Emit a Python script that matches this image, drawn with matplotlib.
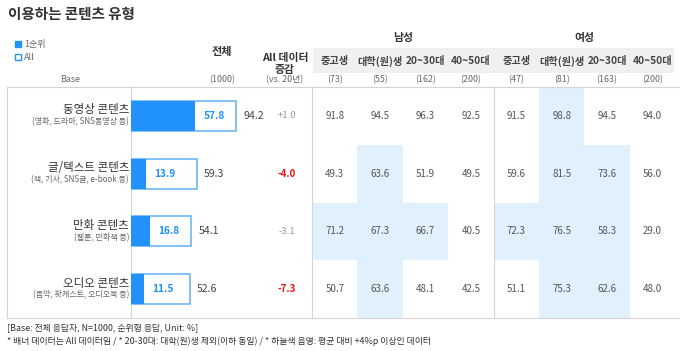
import matplotlib
matplotlib.use("Agg")
import matplotlib.pyplot as plt
from matplotlib.patches import Rectangle

plt.rcParams['font.family'] = ['Noto Sans CJK KR', 'DejaVu Sans']

# data
categories = ["동영상 콘텐츠", "글/텍스트 콘텐츠", "만화 콘텐츠", "오디오 콘텐츠"]
subtitles = ["(영화, 드라마, SNS동영상 등)", "(책, 기사, SNS글, e-book 등)",
             "(웹툰, 만화책 등)", "(음악, 팟캐스트, 오디오북 등)"]
first_rank = [57.8, 13.9, 16.8, 11.5]
all_data = [94.2, 59.3, 54.1, 52.6]
delta = [1.0, -4.0, -3.1, -7.3]
groups = ["남성", "여성"]
segments = ["중고생", "대학(원)생", "20~30대", "40~50대"]
base_total = "(1000)"
base_counts = [73, 55, 162, 200, 47, 81, 163, 200]
table = [
    [91.8, 94.5, 96.3, 92.5, 91.5, 98.8, 94.5, 94.0],
    [49.3, 63.6, 51.9, 49.5, 59.6, 81.5, 73.6, 56.0],
    [71.2, 67.3, 66.7, 40.5, 72.3, 76.5, 58.3, 29.0],
    [50.7, 63.6, 48.1, 42.5, 51.1, 75.3, 62.6, 48.0],
]

W, H = 680, 351
fig = plt.figure(figsize=(W / 100, H / 100), dpi=100)
ax = fig.add_axes([0, 0, 1, 1])
ax.set_xlim(0, W)
ax.set_ylim(H, 0)
ax.axis("off")

blue = "#2191fb"
edge_blue = "#62b0f7"
grid = "#d4d4d4"
txt = "#444444"
gray_txt = "#666666"

top, bottom = 87, 318
row_h = (bottom - top) / len(categories)
col_left = 312
col_w = 45.4

# title
ax.text(8, 14, "이용하는 콘텐츠 유형", fontsize=10.5, fontweight="bold", color="#333333", va="center")

# legend
ax.add_patch(Rectangle((15, 41), 5.5, 5.5, facecolor=blue, edgecolor=blue))
ax.text(24, 44, "1순위", fontsize=6.5, color=gray_txt, va="center")
ax.add_patch(Rectangle((15, 54), 5.5, 5.5, facecolor="white", edgecolor=blue, lw=1))
ax.text(24, 57, "All", fontsize=6.5, color=gray_txt, va="center")

# headers
ax.text(222, 52, "전체", fontsize=8, fontweight="bold", color="#333333", ha="center", va="center")
ax.text(285, 58, "All 데이터", fontsize=7.8, fontweight="bold", color="#333333", ha="center", va="center")
ax.text(285, 70, "증감", fontsize=7.8, fontweight="bold", color="#333333", ha="center", va="center")
ax.add_patch(Rectangle((col_left + 1, 48), col_w * 8 - 2, 25, facecolor="#f0f0f0", edgecolor="none"))
for g, name in enumerate(groups):
    ax.text(col_left + col_w * (4 * g + 2), 38, name, fontsize=7.8, fontweight="bold",
            color="#333333", ha="center", va="center")
for j in range(8):
    cx = col_left + col_w * (j + 0.5)
    ax.text(cx, 61, segments[j % 4], fontsize=7.3, fontweight="bold", color=txt, ha="center", va="center")
    ax.text(cx, 80, "(%d)" % base_counts[j], fontsize=6.4, color=gray_txt, ha="center", va="center")
ax.text(70, 80, "Base", fontsize=6.4, color=gray_txt, ha="center", va="center")
ax.text(222, 80, base_total, fontsize=6.4, color=gray_txt, ha="center", va="center")
ax.text(285, 80, "(vs. 20년)", fontsize=6.4, color=gray_txt, ha="center", va="center")

# table cells with highlight (average +4%p)
for i, row in enumerate(table):
    cy = top + row_h * (i + 0.5)
    for j, v in enumerate(row):
        x0 = col_left + col_w * j
        if v >= all_data[i] + 4:
            ax.add_patch(Rectangle((x0, top + row_h * i), col_w, row_h,
                                   facecolor="#e0f1fd", edgecolor="none", zorder=0))
        ax.text(x0 + col_w / 2, cy, "%.1f" % v, fontsize=7, color="#555555", ha="center", va="center")
    ax.text(129, cy - 6, categories[i], fontsize=8.3, color="#333333", ha="right", va="center")
    ax.text(129, cy + 6, subtitles[i], fontsize=5.8, color=gray_txt, ha="right", va="center")
    d = delta[i]
    red = d <= -4
    ax.text(287, cy, "%+.1f" % d, fontsize=7 if red else 6.9,
            color="#ee1111" if red else "#999999", fontweight="bold" if red else "normal",
            ha="center", va="center")

# grid lines
ax.plot([7, W], [top, top], color=grid, lw=0.8)
ax.plot([7, W], [bottom, bottom], color=grid, lw=0.8)
for x in [7, 131, col_left, col_left + col_w * 4]:
    ax.plot([x, x], [top, bottom], color=grid, lw=0.8)

# footnote
ax.text(7, 328, "[Base: 전체 응답자, N=1000, 순위형 응답, Unit: %]", fontsize=6.4, color="#333333", va="center")
ax.text(7, 341, "* 배너 데이터는 All 데이터임 / * 20-30대: 대학(원)생 제외(이하 동일) / * 하늘색 음영: 평균 대비 +4%p 이상인 데이터",
        fontsize=6.4, color="#333333", va="center")

# bars
px_per_unit = 1.115
bw = 200
bx = fig.add_axes([131 / W, (H - bottom) / H, bw / W, (bottom - top) / H])
bx.set_xlim(0, bw / px_per_unit)
bx.set_ylim(len(categories) - 0.5, -0.5)
bx.axis("off")
bx.patch.set_alpha(0)
ypos = list(range(len(categories)))
bx.barh(ypos, all_data, height=0.52, facecolor="white", edgecolor=edge_blue, lw=1.1)
bx.barh(ypos, first_rank, height=0.52, color=blue)
for i in ypos:
    bx.annotate("%.1f" % first_rank[i], (first_rank[i], i), xytext=(8, 0), textcoords="offset pixels",
                fontsize=7.3, fontweight="bold", color=blue, va="center", ha="left")
    bx.annotate("%.1f" % all_data[i], (all_data[i], i), xytext=(7, 0), textcoords="offset pixels",
                fontsize=7.6, color="#444444", va="center", ha="left")

fig.savefig("out.png", dpi=100)
